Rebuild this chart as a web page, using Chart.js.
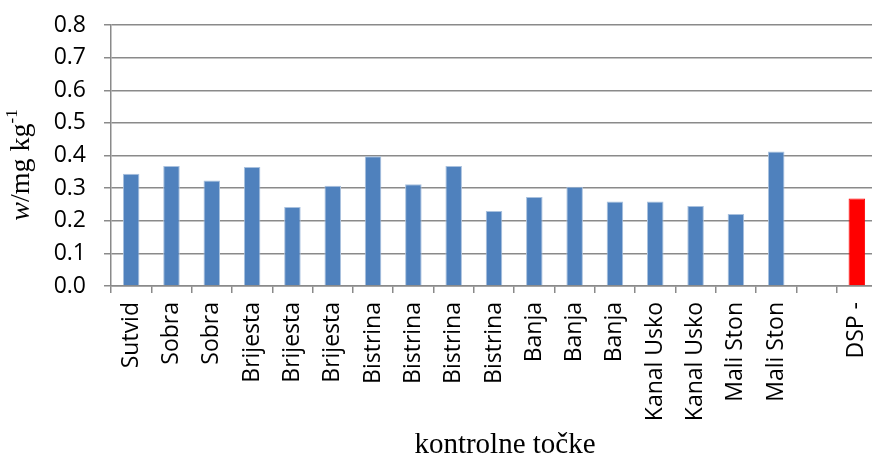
<!DOCTYPE html>
<html>
<head>
<meta charset="utf-8">
<script src="https://cdn.jsdelivr.net/npm/chart.js@4"></script>
<style>
  html, body { margin: 0; padding: 0; background: #fff; overflow: hidden; }
  #wrap { width: 877px; height: 457px; }
</style>
</head>
<body>
<div id="wrap"><canvas id="chart" width="877" height="457"></canvas></div>
<script>
// kontrolne točke i izmjerene vrijednosti (mg/kg)
const tocke = [
  "Sutvid", "Sobra", "Sobra", "Brijesta", "Brijesta", "Brijesta",
  "Bistrina", "Bistrina", "Bistrina", "Bistrina", "Banja", "Banja", "Banja",
  "Kanal Usko", "Kanal Usko", "Mali Ston", "Mali Ston"
];
const vrijednosti = [
  0.344, 0.368, 0.323, 0.365, 0.242, 0.307,
  0.398, 0.312, 0.368, 0.230, 0.273, 0.304, 0.259,
  0.259, 0.245, 0.221, 0.412
];
const dspOznaka = "DSP -";
const dspVrijednost = 0.268;
const yTicks = [0.0, 0.1, 0.2, 0.3, 0.4, 0.5, 0.6, 0.7, 0.8];

const PLAVA = "#4f81bd";
const CRVENA = "#ff0000";
const SIVA = "#8a8a8a";

// prazno mjesto između uzoraka i DSP stupca
const labels = [...tocke, "", dspOznaka];
const data = [...vrijednosti, null, dspVrijednost];
const boje = labels.map((_, i) => i === labels.length - 1 ? CRVENA : PLAVA);
const rubovi = labels.map((_, i) => i === labels.length - 1 ? CRVENA : "#a9c1de");

// naslovi osi (kurziv w i eksponent -1 nisu mogući u ugrađenom naslovu)
const axisTitles = {
  id: "axisTitles",
  afterDraw(chart) {
    const { ctx, chartArea } = chart;
    ctx.save();
    ctx.fillStyle = "#000";
    ctx.textBaseline = "alphabetic";

    // x os
    ctx.font = "29px 'Liberation Serif'";
    ctx.textAlign = "center";
    ctx.fillText("kontrolne točke", 505, 453);

    // y os
    ctx.translate(29, 165);
    ctx.rotate(-Math.PI / 2);
    ctx.textAlign = "left";
    const dijelovi = [
      { t: "w", f: "italic 28px 'Liberation Serif'", dy: 0 },
      { t: "/mg kg", f: "28px 'Liberation Serif'", dy: 0 },
      { t: "-1", f: "17px 'Liberation Serif'", dy: -12 }
    ];
    let ukupno = 0;
    dijelovi.forEach(d => { ctx.font = d.f; d.w = ctx.measureText(d.t).width; ukupno += d.w; });
    let x = -ukupno / 2;
    dijelovi.forEach(d => { ctx.font = d.f; ctx.fillText(d.t, x, d.dy); x += d.w; });
    ctx.restore();
  }
};

new Chart(document.getElementById("chart"), {
  type: "bar",
  data: {
    labels,
    datasets: [{
      data,
      backgroundColor: boje,
      borderColor: rubovi,
      borderWidth: { top: 1, left: 1, right: 1, bottom: 0 },
      barPercentage: 0.41,
      categoryPercentage: 1
    }]
  },
  options: {
    responsive: false,
    animation: false,
    devicePixelRatio: 1,
    layout: { padding: { top: 25, right: 0, bottom: 0, left: 0 } },
    plugins: { legend: { display: false }, tooltip: { enabled: false } },
    scales: {
      x: {
        offset: true,
        grid: { display: true, drawOnChartArea: false, offset: true, color: SIVA, lineWidth: 1.5, tickLength: 7 },
        border: { display: true, color: SIVA, width: 1.5 },
        ticks: {
          autoSkip: false, maxRotation: 90, minRotation: 90, padding: 9,
          color: "#000", font: { family: "'Open Sans'", size: 23 }
        },
        afterFit: (s) => { s.height = 171; s.paddingLeft = 0; s.paddingRight = 0; }
      },
      y: {
        min: yTicks[0], max: yTicks[yTicks.length - 1],
        afterBuildTicks: (s) => { s.ticks = yTicks.map(v => ({ value: v })); },
        grid: { color: SIVA, lineWidth: 1.5, tickLength: 7 },
        border: { display: true, color: SIVA, width: 1.5 },
        ticks: {
          padding: 18, color: "#000", font: { family: "'Open Sans'", size: 23 },
          callback: (v) => Number(v).toFixed(1)
        },
        afterFit: (s) => { s.width = 111; s.paddingTop = 0; s.paddingBottom = 0; }
      }
    }
  },
  plugins: [axisTitles]
});
</script>
</body>
</html>
